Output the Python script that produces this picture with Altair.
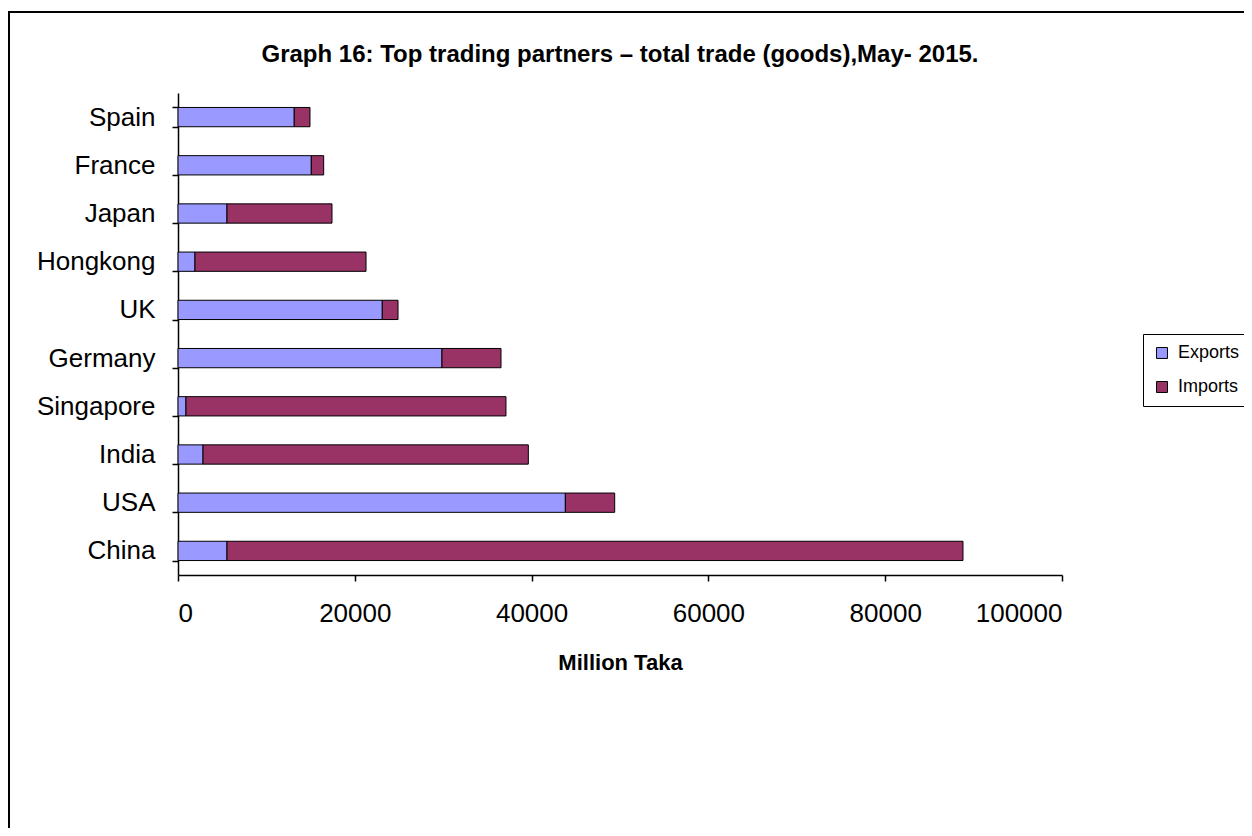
import altair as alt
import pandas as pd

countries = ["Spain", "France", "Japan", "Hongkong", "UK", "Germany",
             "Singapore", "India", "USA", "China"]
exports = [13150, 15080, 5540, 1920, 23110, 29860, 900, 2830, 43820, 5540]
imports = [1780, 1400, 11880, 19350, 1780, 6680, 36200, 36800, 5580, 83260]
series = ["Exports", "Imports"]
colors = ["#9999FF", "#993366"]
x_ticks = [0, 20000, 40000, 60000, 80000, 100000]
title_text = "Graph 16: Top trading partners \u2013 total trade (goods),May- 2015."

rows = []
for c, e, i in zip(countries, exports, imports):
    rows.append({"Country": c, "Series": "Exports", "Value": e, "ord": 0})
    rows.append({"Country": c, "Series": "Imports", "Value": i, "ord": 1})
df = pd.DataFrame(rows)

FONT = "Liberation Sans, Arial, sans-serif"

bars = alt.Chart(df).mark_bar(stroke="black", strokeWidth=1).encode(
    y=alt.Y("Country:N", sort=countries, title=None,
            scale=alt.Scale(paddingInner=0.6, paddingOuter=0.3),
            axis=alt.Axis(tickBand="extent", tickSize=6, labelFontSize=26,
                          labelPadding=17, labelColor="black", domainColor="black",
                          tickColor="black", domainWidth=1.5, tickWidth=1.5,
                          labelFont=FONT)),
    x=alt.X("Value:Q", stack="zero", title="Million Taka",
            scale=alt.Scale(domain=[0, 100000], nice=False),
            axis=alt.Axis(values=x_ticks, format="d", grid=False, tickSize=6,
                          labelFontSize=26, labelPadding=19, labelColor="black",
                          domainColor="black", tickColor="black", domainWidth=1.5,
                          tickWidth=1.5, titleFontSize=22, titleFontWeight="bold",
                          titlePadding=26, titleColor="black", labelFont=FONT,
                          titleFont=FONT)),
    color=alt.Color("Series:N", scale=alt.Scale(domain=series, range=colors),
                    legend=alt.Legend(title=None, orient="none", legendX=965,
                                      legendY=241, strokeColor="black",
                                      padding=10, symbolType="square",
                                      symbolSize=120, symbolStrokeColor="black",
                                      symbolStrokeWidth=1, labelFontSize=18,
                                      labelFont=FONT, labelColor="black",
                                      rowPadding=16, labelOffset=7)),
    order=alt.Order("ord:Q"),
)

frame = alt.Chart(df).mark_rect(filled=False, stroke="black", strokeWidth=1.5,
                                clip=False).encode(
    x=alt.value(-169), x2=alt.value(1100), y=alt.value(-81), y2=alt.value(760)
)

title = alt.Chart(pd.DataFrame({"t": [title_text]})).mark_text(
    fontSize=24, fontWeight="bold", font=FONT, color="black",
    align="center", baseline="alphabetic"
).encode(text="t:N", x=alt.value(442), y=alt.value(-31))

chart = alt.layer(frame, bars, title).properties(
    width=884, height=482,
    autosize=alt.AutoSizeParams(type="none"),
    padding={"left": 170, "top": 85, "right": 182, "bottom": 253},
).configure_view(stroke=None)

chart.save("out.html", embed_options={"renderer": "svg", "actions": False})
